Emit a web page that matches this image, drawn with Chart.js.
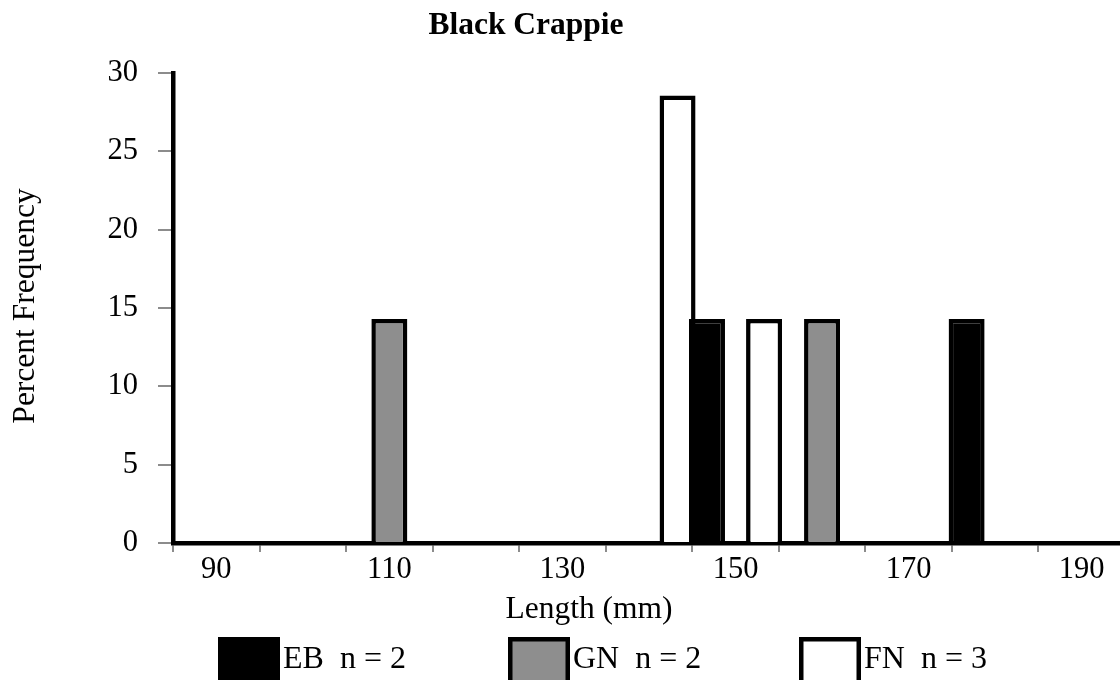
<!DOCTYPE html>
<html>
<head>
<meta charset="utf-8">
<title>Black Crappie</title>
<script src="https://cdn.jsdelivr.net/npm/chart.js@4"></script>
<style>
  html, body { margin: 0; padding: 0; background: #fff; overflow: hidden; width: 1120px; height: 680px; }
  canvas { display: block; }
</style>
</head>
<body>
<canvas id="chart-canvas" width="1125" height="680"></canvas>
<script>
'use strict';

// length classes (mm), only every other one gets a label
const lengths = [90, 100, 110, 120, 130, 140, 150, 160, 170, 180, 190];
// percent frequency per gear
const ebValues = [0, 0, 0, 0, 0, 0, 14.29, 0, 0, 14.29, 0];
const gnValues = [0, 0, 14.29, 0, 0, 0, 0, 14.29, 0, 0, 0];
const fnValues = [0, 0, 0, 0, 0, 28.57, 14.29, 0, 0, 0, 0];
const seriesNames = ['EB  n = 2', 'GN  n = 2', 'FN  n = 3'];
const yTicks = [0, 5, 10, 15, 20, 25, 30];

const serif = "'Liberation Serif', 'Times New Roman', serif";
const gridGray = '#8c8c8c';

// title, axis titles and the big-box legend drawn by hand
const decorations = {
    id: 'decorations',
    afterDraw(chart) {
        const ctx = chart.ctx;
        ctx.save();
        ctx.fillStyle = '#000';
        ctx.textBaseline = 'alphabetic';

        // chart title
        ctx.font = 'bold 31.5px ' + serif;
        ctx.textAlign = 'center';
        ctx.fillText('Black Crappie', 526, 34);

        // x axis title
        ctx.font = '31.5px ' + serif;
        ctx.fillText('Length (mm)', 589, 618);

        // y axis title
        ctx.save();
        ctx.translate(34, 306);
        ctx.rotate(-Math.PI / 2);
        ctx.fillText('Percent Frequency', 0, 0);
        ctx.restore();

        // legend
        ctx.font = '32px ' + serif;
        const boxX = [218, 508, 799];
        chart.data.datasets.forEach((ds, i) => {
            const x = boxX[i];
            ctx.fillStyle = ds.backgroundColor;
            ctx.fillRect(x, 637, 62, 60);
            ctx.strokeStyle = '#000';
            ctx.lineWidth = 4.5;
            ctx.strokeRect(x + 2.25, 639.25, 57.5, 60);
            ctx.fillStyle = '#000';
            ctx.textAlign = 'left';
            ctx.fillText(seriesNames[i], x + 65, 668);
        });
        ctx.restore();
    }
};

const ctx = document.getElementById('chart-canvas').getContext('2d');
const lengthChart = new Chart(ctx, {
    type: 'bar',
    data: {
        labels: lengths,
        datasets: [
            { label: seriesNames[0], data: ebValues, backgroundColor: '#000000' },
            { label: seriesNames[1], data: gnValues, backgroundColor: '#8e8e8e' },
            { label: seriesNames[2], data: fnValues, backgroundColor: '#ffffff' }
        ]
    },
    options: {
        responsive: false,
        animation: false,
        layout: { padding: { top: 73, left: 0, right: 0, bottom: 0 } },
        datasets: {
            bar: {
                borderColor: '#000',
                borderWidth: 4.5,
                categoryPercentage: 0.99,
                barPercentage: 1.26
            }
        },
        plugins: {
            legend: { display: false },
            title: { display: false },
            tooltip: { enabled: false }
        },
        scales: {
            x: {
                afterFit(scale) { scale.height = 137; },
                grid: {
                    drawOnChartArea: false,
                    tickLength: 9,
                    color: gridGray,
                    lineWidth: 2
                },
                border: { color: '#000', width: 4.5 },
                ticks: {
                    autoSkip: false,
                    maxRotation: 0,
                    padding: 0,
                    color: '#000',
                    font: { family: serif, size: 30.5 },
                    callback: (val, i) => (i % 2 === 0 ? lengths[i] : '')
                }
            },
            y: {
                min: 0,
                max: 30,
                afterFit(scale) { scale.width = 173; },
                grid: {
                    drawOnChartArea: false,
                    tickLength: 15,
                    color: gridGray,
                    lineWidth: 2
                },
                border: { color: '#000', width: 4.5 },
                ticks: {
                    stepSize: 2.5,
                    padding: 20,
                    color: '#000',
                    font: { family: serif, size: 30.5 },
                    callback: (v) => (yTicks.includes(v) ? v : '')
                }
            }
        }
    },
    plugins: [decorations]
});
</script>
</body>
</html>
